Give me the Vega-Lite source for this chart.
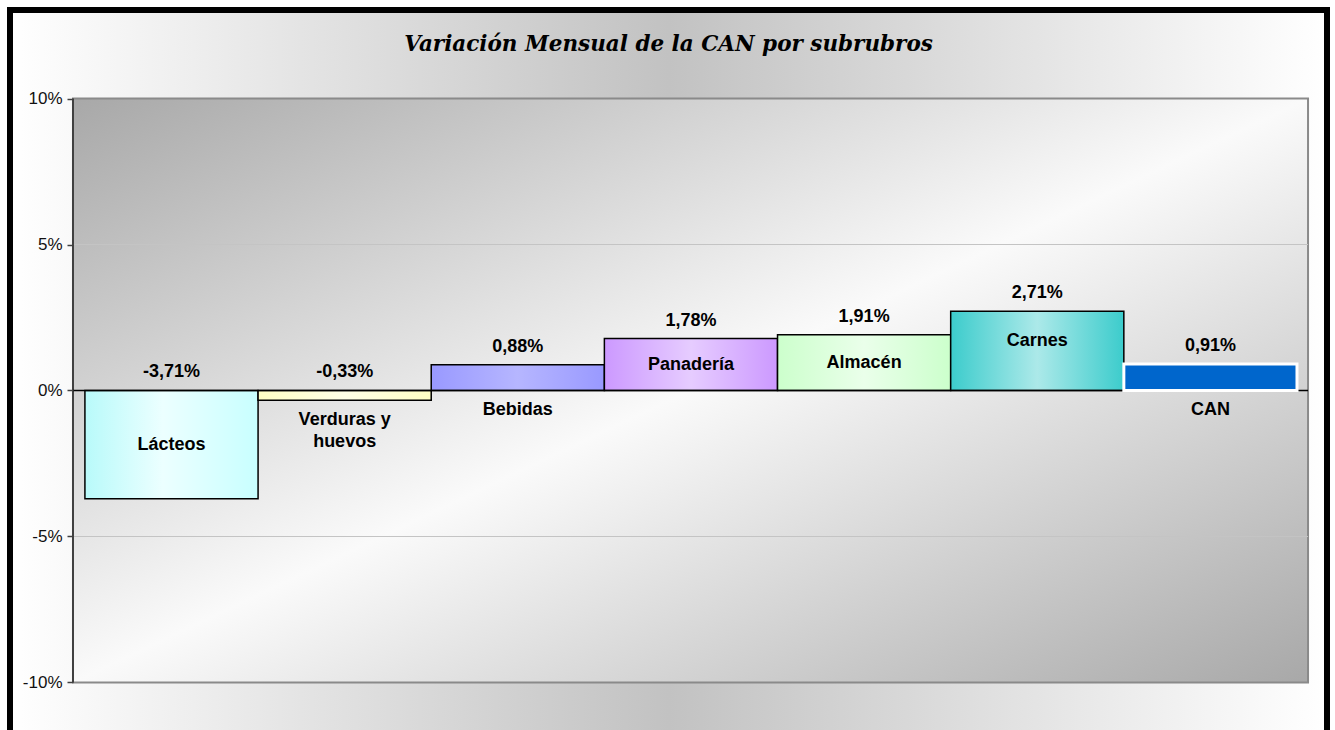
{
  "$schema": "https://vega.github.io/schema/vega-lite/v6.json",
  "width": 1317,
  "height": 720,
  "autosize": {"type": "none"},
  "padding": {"left": 10, "top": 10, "right": 8, "bottom": 0},
  "background": "white",
  "config": {"view": {"stroke": null}},
  "title": {
    "text": "Variación Mensual de la CAN por subrubros",
    "font": "DejaVu Serif",
    "fontStyle": "italic",
    "fontWeight": "bold",
    "fontSize": 21.5,
    "color": "black",
    "anchor": "middle",
    "offset": -48
  },
  "data": {
    "values": [
      {"cat": "Lácteos", "v": -3.71},
      {"cat": "Verduras y huevos", "v": -0.33},
      {"cat": "Bebidas", "v": 0.88},
      {"cat": "Panadería", "v": 1.78},
      {"cat": "Almacén", "v": 1.91},
      {"cat": "Carnes", "v": 2.71},
      {"cat": "CAN", "v": 0.91}
    ]
  },
  "layer": [
    {
      "data": {"values": [{}]},
      "mark": {
        "type": "rect",
        "stroke": "black",
        "strokeWidth": 6,
        "fill": {"gradient": "linear", "x1": 0, "y1": 0, "x2": 1, "y2": 0,
          "stops": [{"offset": 0, "color": "#ffffff"}, {"offset": 0.5, "color": "#c2c2c2"}, {"offset": 1, "color": "#ffffff"}]}
      },
      "encoding": {
        "y": {"datum": 13.031, "type": "quantitative", "scale": {"domain": [-11.627, 13.031], "nice": false, "zero": false}, "axis": {
          "orient": "left", "offset": -63, "values": [-10, -5, 0, 5, 10], "labelExpr": "datum.value + '%'",
          "domain": false, "grid": false, "ticks": true, "tickSize": 6, "tickColor": "#404040", "tickWidth": 1.5,
          "labelFont": "Liberation Sans", "labelFontSize": 17, "labelColor": "#111111", "labelPadding": 5, "title": null, "zindex": 2
        }},
        "y2": {"datum": -14}
      }
    },
    {
      "data": {"values": [{}]},
      "mark": {
        "type": "rect",
        "stroke": "#8a8a8a",
        "strokeWidth": 2,
        "fill": {"gradient": "linear", "x1": 0, "y1": 0, "x2": 1, "y2": 1,
          "stops": [{"offset": 0, "color": "#a8a8a8"}, {"offset": 0.5, "color": "#fafafa"}, {"offset": 1, "color": "#a8a8a8"}]}
      },
      "encoding": {
        "x": {"datum": "Lácteos", "type": "nominal", "bandPosition": -0.0689, "axis": null, "scale": {"domain": ["Lácteos", "Verduras y huevos", "Bebidas", "Panadería", "Almacén", "Carnes", "CAN"], "paddingInner": 0, "paddingOuter": 0.303, "align": 0.714}},
        "x2": {"datum": "CAN", "bandPosition": 1.0638},
        "y": {"datum": 10, "type": "quantitative"},
        "y2": {"datum": -10}
      }
    },
    {
      "data": {"values": [{}]},
      "mark": {"type": "rule", "stroke": "#c4c4c4", "strokeWidth": 1},
      "encoding": {
        "x": {"datum": "Lácteos", "type": "nominal", "bandPosition": -0.0689},
        "x2": {"datum": "CAN", "bandPosition": 1.0638},
        "y": {"datum": 5, "type": "quantitative"}
      }
    },
    {
      "data": {"values": [{}]},
      "mark": {"type": "rule", "stroke": "#c4c4c4", "strokeWidth": 1},
      "encoding": {
        "x": {"datum": "Lácteos", "type": "nominal", "bandPosition": -0.0689},
        "x2": {"datum": "CAN", "bandPosition": 1.0638},
        "y": {"datum": -5, "type": "quantitative"}
      }
    },
    {
      "data": {"values": [{}]},
      "mark": {"type": "rule", "stroke": "#404040", "strokeWidth": 2},
      "encoding": {
        "x": {"datum": "Lácteos", "type": "nominal", "bandPosition": -0.0689},
        "y": {"datum": 10, "type": "quantitative"},
        "y2": {"datum": -10}
      }
    },
    {
      "transform": [{"filter": "datum.cat === 'Lácteos'"}],
      "mark": {"type": "bar", "stroke": "black", "strokeWidth": 1.5,
        "fill": {"gradient": "linear", "x1": 0, "y1": 0, "x2": 1, "y2": 0,
          "stops": [{"offset": 0, "color": "#b8fafa"}, {"offset": 0.45, "color": "#ecffff"}, {"offset": 1, "color": "#c8ffff"}]}},
      "encoding": {"x": {"field": "cat", "type": "nominal"}, "y": {"field": "v", "type": "quantitative"}, "y2": {"datum": 0}}
    },
    {
      "transform": [{"filter": "datum.cat === 'Verduras y huevos'"}],
      "mark": {"type": "bar", "stroke": "black", "strokeWidth": 1.5,
        "fill": {"gradient": "linear", "x1": 0, "y1": 0, "x2": 1, "y2": 0,
          "stops": [{"offset": 0, "color": "#ffffc4"}, {"offset": 0.5, "color": "#ffffe6"}, {"offset": 1, "color": "#ffffc4"}]}},
      "encoding": {"x": {"field": "cat", "type": "nominal"}, "y": {"field": "v", "type": "quantitative"}, "y2": {"datum": 0}}
    },
    {
      "transform": [{"filter": "datum.cat === 'Bebidas'"}],
      "mark": {"type": "bar", "stroke": "black", "strokeWidth": 1.5,
        "fill": {"gradient": "linear", "x1": 0, "y1": 0, "x2": 1, "y2": 0,
          "stops": [{"offset": 0, "color": "#9999ff"}, {"offset": 0.5, "color": "#b6b6ff"}, {"offset": 1, "color": "#9999ff"}]}},
      "encoding": {"x": {"field": "cat", "type": "nominal"}, "y": {"field": "v", "type": "quantitative"}, "y2": {"datum": 0}}
    },
    {
      "transform": [{"filter": "datum.cat === 'Panadería'"}],
      "mark": {"type": "bar", "stroke": "black", "strokeWidth": 1.5,
        "fill": {"gradient": "linear", "x1": 0, "y1": 0, "x2": 1, "y2": 0,
          "stops": [{"offset": 0, "color": "#cc99ff"}, {"offset": 0.5, "color": "#e6ccff"}, {"offset": 1, "color": "#cc99ff"}]}},
      "encoding": {"x": {"field": "cat", "type": "nominal"}, "y": {"field": "v", "type": "quantitative"}, "y2": {"datum": 0}}
    },
    {
      "transform": [{"filter": "datum.cat === 'Almacén'"}],
      "mark": {"type": "bar", "stroke": "black", "strokeWidth": 1.5,
        "fill": {"gradient": "linear", "x1": 0, "y1": 0, "x2": 1, "y2": 0,
          "stops": [{"offset": 0, "color": "#ccffcc"}, {"offset": 0.5, "color": "#eaffea"}, {"offset": 1, "color": "#ccffcc"}]}},
      "encoding": {"x": {"field": "cat", "type": "nominal"}, "y": {"field": "v", "type": "quantitative"}, "y2": {"datum": 0}}
    },
    {
      "transform": [{"filter": "datum.cat === 'Carnes'"}],
      "mark": {"type": "bar", "stroke": "black", "strokeWidth": 1.5,
        "fill": {"gradient": "linear", "x1": 0, "y1": 0, "x2": 1, "y2": 0,
          "stops": [{"offset": 0, "color": "#3ccccc"}, {"offset": 0.5, "color": "#ace9e9"}, {"offset": 1, "color": "#3ccccc"}]}},
      "encoding": {"x": {"field": "cat", "type": "nominal"}, "y": {"field": "v", "type": "quantitative"}, "y2": {"datum": 0}}
    },
    {
      "data": {"values": [{}]},
      "mark": {"type": "rule", "stroke": "black", "strokeWidth": 1.5},
      "encoding": {
        "x": {"datum": "Lácteos", "type": "nominal", "bandPosition": -0.0689},
        "x2": {"datum": "CAN", "bandPosition": 1.0638},
        "y": {"datum": 0, "type": "quantitative"}
      }
    },
    {
      "transform": [{"filter": "datum.cat === 'CAN'"}],
      "mark": {"type": "bar", "stroke": "white", "strokeWidth": 3, "fill": "#0066cc"},
      "encoding": {"x": {"field": "cat", "type": "nominal"}, "y": {"field": "v", "type": "quantitative"}, "y2": {"datum": 0}}
    },
    {
      "transform": [
        {"calculate": "replace(replace(format(datum.v, '.2f'), '.', ','), '\u2212', '-') + '%'", "as": "etiqueta"},
        {"calculate": "max(datum.v, 0)", "as": "arriba"}
      ],
      "mark": {"type": "text", "font": "Liberation Sans", "fontWeight": "bold", "fontSize": 18, "color": "black", "baseline": "middle", "dy": -18},
      "encoding": {"x": {"field": "cat", "type": "nominal"}, "y": {"field": "arriba", "type": "quantitative"}, "text": {"field": "etiqueta"}}
    },
    {
      "transform": [
        {"filter": "indexof(['Lácteos', 'Panadería', 'Almacén'], datum.cat) >= 0"},
        {"calculate": "datum.v / 2", "as": "medio"}
      ],
      "mark": {"type": "text", "font": "Liberation Sans", "fontWeight": "bold", "fontSize": 18, "color": "black", "baseline": "middle"},
      "encoding": {"x": {"field": "cat", "type": "nominal"}, "y": {"field": "medio", "type": "quantitative"}, "text": {"field": "cat"}}
    },
    {
      "transform": [{"filter": "datum.cat === 'Carnes'"}],
      "mark": {"type": "text", "font": "Liberation Sans", "fontWeight": "bold", "fontSize": 18, "color": "black", "baseline": "middle", "dy": 30},
      "encoding": {"x": {"field": "cat", "type": "nominal"}, "y": {"field": "v", "type": "quantitative"}, "text": {"field": "cat"}}
    },
    {
      "transform": [
        {"filter": "indexof(['Verduras y huevos', 'Bebidas', 'CAN'], datum.cat) >= 0"},
        {"calculate": "min(datum.v, 0)", "as": "abajo"},
        {"calculate": "replace(datum.cat, 'y ', 'y\\n')", "as": "nombre"}
      ],
      "mark": {"type": "text", "font": "Liberation Sans", "fontWeight": "bold", "fontSize": 18, "color": "black", "baseline": "top", "dy": 11, "lineBreak": "\n", "lineHeight": 22},
      "encoding": {"x": {"field": "cat", "type": "nominal"}, "y": {"field": "abajo", "type": "quantitative"}, "text": {"field": "nombre"}}
    }
  ]
}
